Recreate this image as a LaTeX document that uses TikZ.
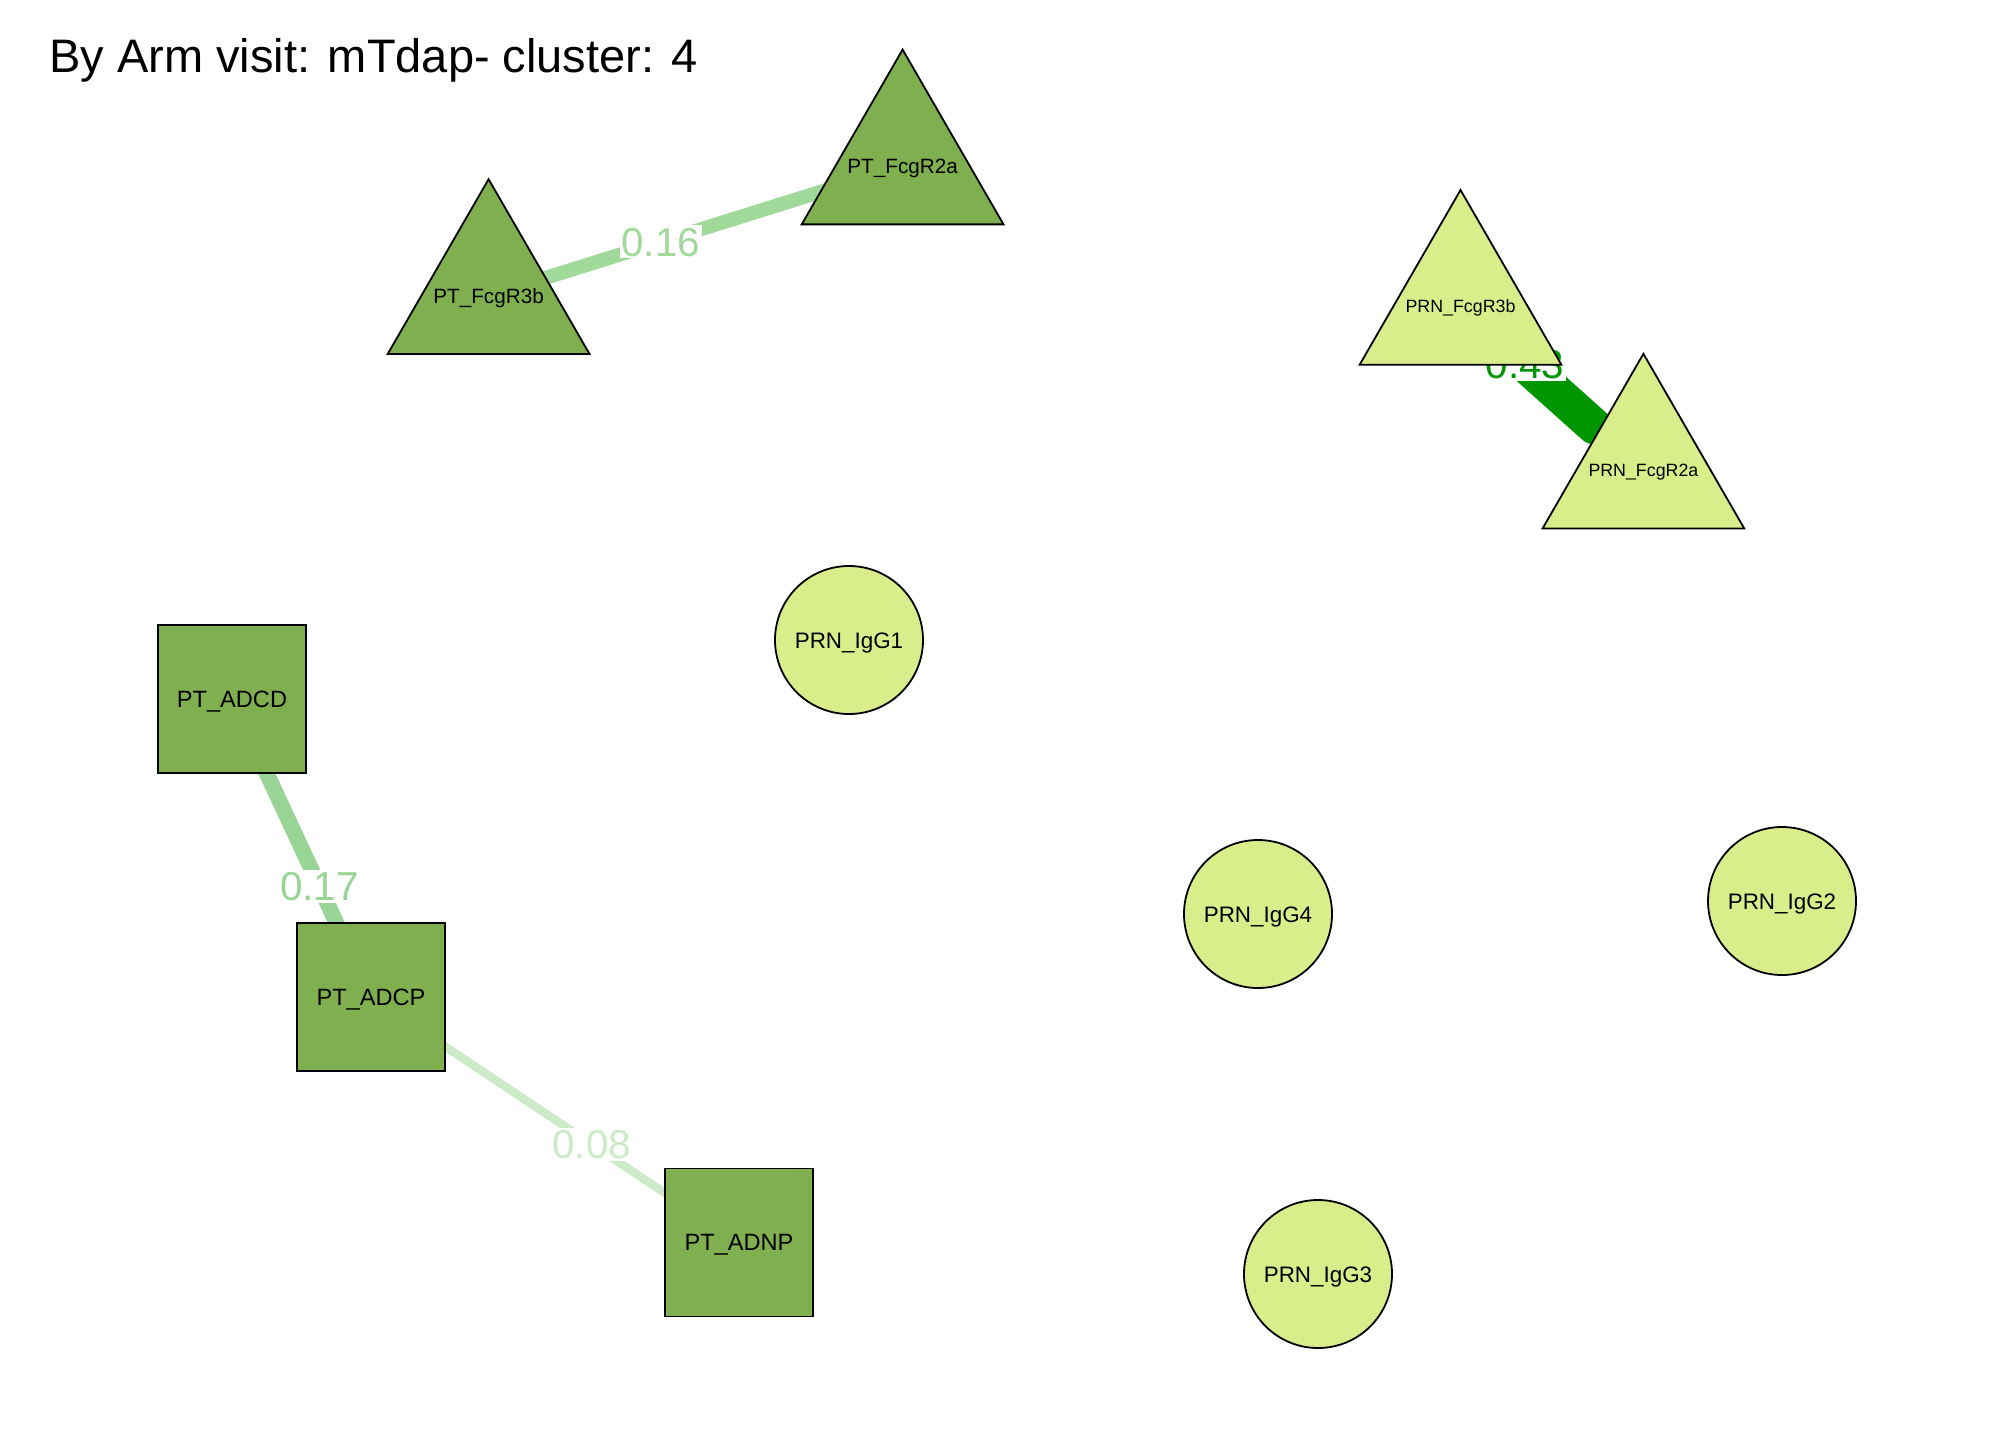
\documentclass[tikz,border=0pt]{standalone}
\usepackage{fontspec}
\setmainfont{Liberation Sans}
\usetikzlibrary{shapes.geometric,backgrounds}
\definecolor{ptfill}{RGB}{127,175,79}
\definecolor{prnfill}{RGB}{217,238,139}
\definecolor{eA}{RGB}{161,217,155}
\definecolor{eB}{RGB}{152,213,148}
\definecolor{eC}{RGB}{205,235,200}
\definecolor{eD}{RGB}{0,150,0}
\begin{document}
\begin{tikzpicture}[x=0.5pt,y=-0.5pt,
  vtx/.style={draw=black, line width=0.9pt, inner sep=0pt, text depth=0pt, text=black},
  sq/.style={vtx, rectangle, minimum size=74pt, fill=ptfill, text height=8.45pt, font=\fontsize{11.8}{12}\selectfont},
  circ/.style={vtx, circle, minimum size=74pt, fill=prnfill, text height=8pt, font=\fontsize{11.2}{12}\selectfont},
  tri/.style={vtx, regular polygon, regular polygon sides=3, minimum size=116.5pt},
  ptlbl/.style={inner sep=0pt, text=black, text height=7.4pt, text depth=0pt, font=\fontsize{10.35}{11}\selectfont},
  prnlbl/.style={inner sep=0pt, text=black, text height=6.4pt, text depth=0pt, font=\fontsize{8.9}{10}\selectfont},
  pttri/.style={tri, fill=ptfill, label={[ptlbl]center:#1}},
  prntri/.style={tri, fill=prnfill, label={[prnlbl]center:#1}},
  edge/.style={line cap=round},
  elbl/.style={font=\fontsize{20.2}{22}\selectfont, fill=white, inner sep=1pt, text height=14.5pt, text depth=0pt}
]
\useasboundingbox (0,0) rectangle (2016,1440);

\node[anchor=base west, inner sep=0pt, font=\fontsize{23.5}{28}\selectfont] (title) at (49,72) {By Arm visit: mTdap- cluster: 4};

\node[pttri={PT\_FcgR2a}] (fr2a) at (902.6,166.1) {};
\node[pttri={PT\_FcgR3b}] (fr3b) at (488.6,295.7) {};
\node[prntri={PRN\_FcgR3b}] (pfr3b) at (1460.5,306.5) {};
\node[prntri={PRN\_FcgR2a}] (pfr2a) at (1643.4,470.3) {};
\node[sq] (adcd) at (232,699) {PT\_ADCD};
\node[sq] (adcp) at (371,997) {PT\_ADCP};
\node[sq] (adnp) at (739,1242.5) {PT\_ADNP};
\node[circ] (g1) at (849,640) {PRN\_IgG1};
\node[circ] (g4) at (1258,914) {PRN\_IgG4};
\node[circ] (g2) at (1782,901) {PRN\_IgG2};
\node[circ] (g3) at (1318,1274) {PRN\_IgG3};

\begin{scope}[on background layer]
\fill[white] (0,0) rectangle (2016,1440);
\draw[edge, eA, line width=7pt] (fr3b.center) -- node[elbl, text=eA, pos=0.416] {0.16} (fr2a.center);
\draw[edge, eB, line width=7.8pt] (adcd.center) -- node[elbl, text=eB, pos=0.629] {0.17} (adcp.center);
\draw[edge, eC, line width=4.2pt] (adcp.center) -- node[elbl, text=eC, pos=0.60] {0.08} (adnp.center);
\draw[edge, eD, line width=18pt, shorten >=33pt] (pfr3b.center) -- node[elbl, text=eD, pos=0.352] {0.43} (pfr2a.center);
\end{scope}
\end{tikzpicture}
\end{document}
